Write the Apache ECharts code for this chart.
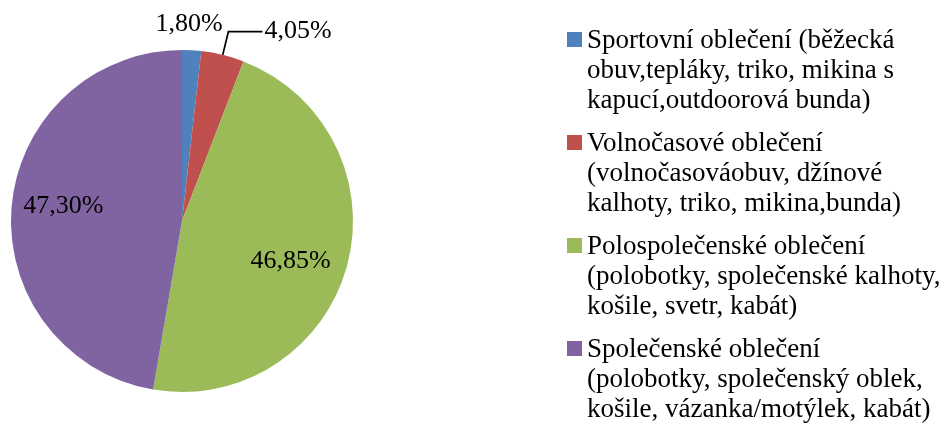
<!DOCTYPE html>
<html>
<head>
<meta charset="utf-8">
<script src="https://cdn.jsdelivr.net/npm/echarts@6/dist/echarts.min.js"></script>
<style>
  html, body { margin: 0; padding: 0; background: #fff; }
  #chart { width: 942px; height: 423px; }
</style>
</head>
<body>
<div id="chart"></div>
<script>
const categories = [
  'Sportovní oblečení (běžecká\nobuv,tepláky, triko, mikina s\nkapucí,outdoorová bunda)',
  'Volnočasové oblečení\n(volnočasováobuv, džínové\nkalhoty, triko, mikina,bunda)',
  'Polospolečenské oblečení\n(polobotky, společenské kalhoty,\nkošile, svetr, kabát)',
  'Společenské oblečení\n(polobotky, společenský oblek,\nkošile, vázanka/motýlek, kabát)'
]
const shares = [1.80, 4.05, 46.85, 47.30]
const colors = ['#4F81BD', '#C0504D', '#9BBB59', '#8064A2']

const serif = "'Liberation Serif', 'Times New Roman', serif"
const pct = v => v.toFixed(2).replace('.', ',') + '%'

const chart = echarts.init(document.getElementById('chart'))

// which slices get their label from which ring
const mainLabel = [false, true, false, false]
const innerLabel = [false, false, true, true]
const outerLabel = [true, false, false, false]

// small nudges, excel places "best fit" labels a bit off the mid angle
const nudge = {
  0: { dx: -4, dy: 1 },
  2: { dx: -7, dy: 8 },
  3: { dx: 1, dy: -5 }
}
const nudgeLayout = p => nudge[p.dataIndex] || {}

const labelText = {
  fontFamily: serif,
  fontSize: 26,
  color: '#000',
  formatter: p => pct(p.value)
}

const makeData = flags => categories.map((name, i) => ({
  name: name,
  value: shares[i],
  label: { show: flags[i] }
}))

const ghost = {
  type: 'pie',
  center: [182, 221],
  startAngle: 90,
  clockwise: true,
  silent: true,
  avoidLabelOverlap: false,
  itemStyle: { color: 'transparent', borderWidth: 0 },
  labelLine: { show: false },
  labelLayout: nudgeLayout,
  emphasis: { disabled: true }
}

const option = {
  animation: false,
  color: colors,
  legend: {
    orient: 'vertical',
    left: 567,
    top: 26,
    height: 410,
    padding: 0,
    selectedMode: false,
    itemWidth: 15,
    itemHeight: 90,
    itemGap: 13,
    icon: 'path://M0,0M0,6H15V21H0ZM15,90',
    textStyle: {
      fontFamily: serif,
      fontSize: 27,
      lineHeight: 30,
      color: '#000'
    },
    data: categories
  },
  series: [
    {
      name: 'main',
      type: 'pie',
      center: [182, 221],
      radius: 171,
      startAngle: 90,
      clockwise: true,
      avoidLabelOverlap: false,
      itemStyle: { borderWidth: 0 },
      label: Object.assign({ position: 'outside', distanceToLabelLine: 2 }, labelText),
      labelLine: {
        show: true,
        length: 24,
        length2: 34,
        lineStyle: { color: '#000', width: 1.75 }
      },
      data: makeData(mainLabel)
    },
    Object.assign({}, ghost, {
      name: 'inner',
      radius: [63, 171],
      label: Object.assign({ position: 'inside' }, labelText),
      data: makeData(innerLabel)
    }),
    Object.assign({}, ghost, {
      name: 'outer',
      radius: [171, 219],
      label: Object.assign({ position: 'inside' }, labelText),
      data: makeData(outerLabel)
    })
  ]
}

chart.setOption(option)
</script>
</body>
</html>
